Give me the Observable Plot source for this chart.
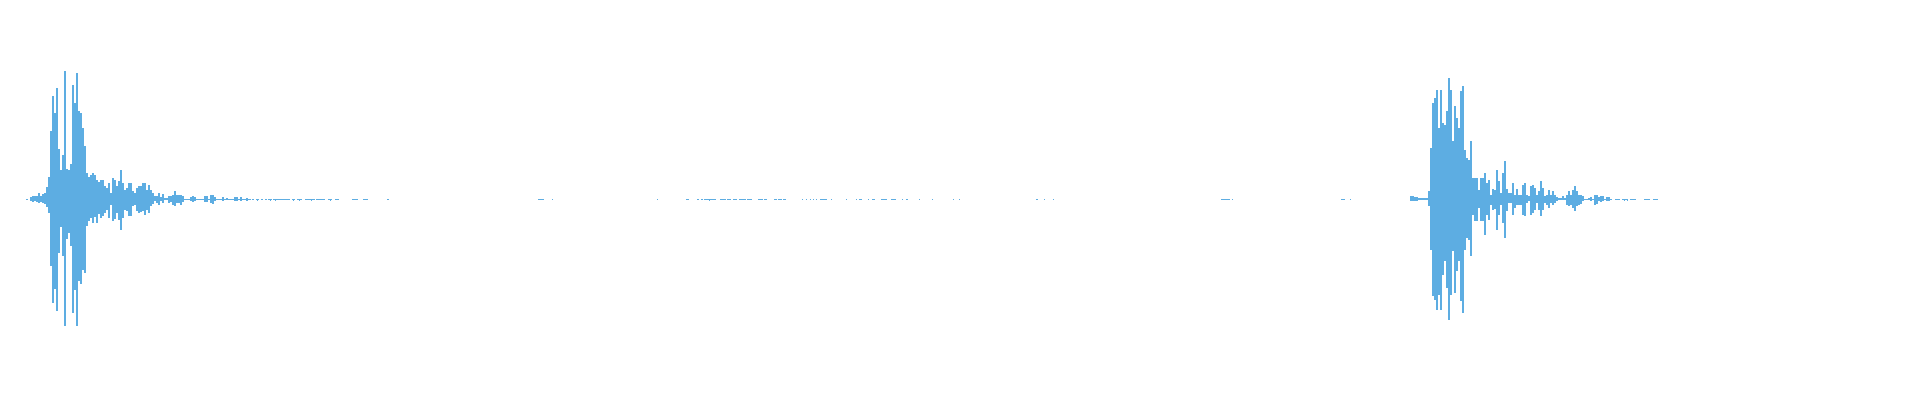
<!DOCTYPE html>
<html><head><meta charset="utf-8">
<script src="https://cdn.jsdelivr.net/npm/d3@7"></script>
<script src="https://cdn.jsdelivr.net/npm/@observablehq/plot@0.6"></script>
<style>html,body{margin:0;padding:0;background:#fff}</style>
</head><body><div id="chart"></div>
<script>
// Waveform peaks (8-bit amplitude units), time in ms, 2 ms bins
const binMs = 2;
const burst1Start = 26;
const burst1Hi = [0,0,2,3,3,3,6,3,5,6, 12,22,68,103,86,111,50,29,44,128, 30,29,35,114,96,126,88,86,71,53, 26,22,24,26,24,19,17,19,19,13, 11,16,6,21,19,13,18,29,16,9, 11,16,16,8,6,11,13,13,16,16, 9,14,9,6,3,3,6,2,5,1, 1,3,3,4,8,4,4,4,3,0, 0,0,2,3,2,0,0,0,0,3, 3,0,4,4,2,0,0,0,2,0, 1,0,0,0,2,2,0,2,0,0, 1,0];
const burst1Lo = [1,0,2,3,2,3,4,3,4,5, 8,14,67,104,90,112,54,28,57,127, 40,34,47,114,91,127,82,85,71,74, 27,22,19,24,18,24,15,19,17,14, 11,19,6,22,20,14,21,31,19,11, 12,17,17,7,6,12,14,13,12,16, 11,14,7,5,2,4,6,2,4,1, 1,4,3,6,7,4,4,6,3,1, 1,1,2,3,2,1,1,1,1,3, 3,1,4,5,2,1,1,1,2,1, 1,1,1,1,2,2,1,2,1,1, 2,1];

const burst2Start = 1410;
const burst2Hi = [3,3,2,2,1,1,1,1,1,8, 51,96,101,109,71,109,76,74,88,121, 109,58,93,81,71,108,113,49,41,39, 58,21,21,21,9,21,21,26,16,19, 4,10,9,29,18,6,26,38,10,6, 6,16,4,10,4,4,14,16,4,3, 13,14,11,4,8,18,11,3,4,9, 4,8,4,2,1,1,3,1,4,8, 4,9,13,8,4,4,3,0,0,1, 2,0,4,4,2,3,3,0,2,2, 0];
const burst2Lo = [2,2,2,2,1,1,1,1,1,7, 51,97,101,111,96,111,76,62,89,121, 96,52,94,72,62,102,114,51,39,41, 57,16,22,22,9,22,22,36,16,21, 6,11,10,31,16,6,24,39,12,4, 4,16,9,6,6,6,16,17,4,2, 16,14,11,4,11,17,11,4,6,9, 4,6,4,2,1,1,1,1,6,7, 6,9,12,7,6,5,2,1,1,1, 2,1,6,5,2,3,2,1,2,2, 1];

// Low-level noise floor segments (ms)
const floorStart = [249,252,256,261,265,268,273,292,297,305,316,328,335,352,363,387, 538,552,657,686,697,701,704,712,720,727,733,739,747,758,764,774,778,783,802,806,810,813,816,820,831,846,856,859,868,872,881,891,902,906,919,932,953,959,1036,1044,1053,1221,1232,1341,1350, 1615,1622,1630,1644,1653];
const floorEnd   = [251,254,259,263,267,272,290,295,302,315,325,332,339,358,368,389, 544,553,658,689,699,703,712,716,726,731,737,746,752,763,767,777,782,786,803,807,811,814,817,827,832,847,857,862,869,875,887,896,903,908,920,933,954,960,1038,1045,1054,1230,1233,1345,1351, 1620,1628,1636,1650,1658];

// Small isolated clicks (ms, amplitude)
const clickTime = [257,270,275,293,299,311,330,709,1624,1627];
const clickAmp  = [2,2,2,2,2,2,2,2,2,2];

const rows = [];
function addBurst(start, hi, lo) {
  hi.forEach((h, i) => rows.push({t0: start + i * binMs, t1: start + (i + 1) * binMs, hi: h, lo: -lo[i]}));
}
addBurst(burst1Start, burst1Hi, burst1Lo);
addBurst(burst2Start, burst2Hi, burst2Lo);
floorStart.forEach((s, i) => rows.push({t0: s, t1: floorEnd[i], hi: 0, lo: -1}));
clickTime.forEach((t, i) => rows.push({t0: t, t1: t + 1, hi: 0, lo: -clickAmp[i]}));

const chart = Plot.plot({
  width: 1920,
  height: 400,
  marginTop: 71,
  marginBottom: 73,
  marginLeft: 0,
  marginRight: 0,
  x: {domain: [0, 1920], axis: null},
  y: {domain: [-128, 128], axis: null},
  style: {background: "#fff"},
  marks: [
    Plot.rect(rows, {x1: "t0", x2: "t1", y1: "lo", y2: "hi", fill: "#5dade2", inset: 0, shapeRendering: "crispEdges"})
  ]
});
document.getElementById("chart").appendChild(chart);
</script>
</body></html>
